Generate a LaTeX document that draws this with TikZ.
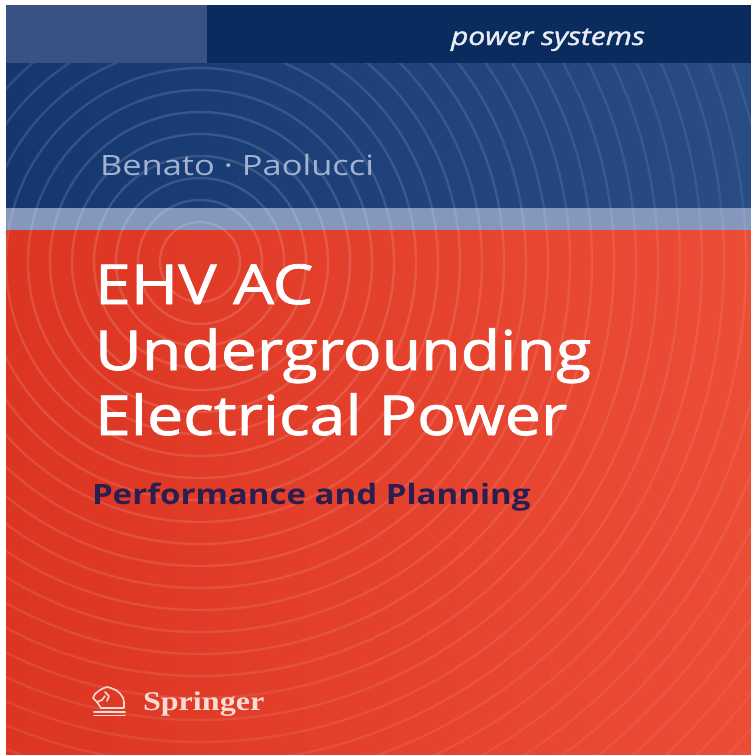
\documentclass[tikz,border=0pt]{standalone}
\usepackage{fontspec}
\setmainfont{Open Sans}
\newfontfamily\coverfont{Open Sans}
\newfontfamily\heavyfont[FakeBold=1.4]{Open Sans}
\newfontfamily\springerfont{Liberation Serif}
\definecolor{topbox}{HTML}{3A5184}
\definecolor{topband}{HTML}{0A2B5E}
\definecolor{midL}{HTML}{15376F}
\definecolor{midR}{HTML}{294C87}
\definecolor{bandc}{HTML}{8597BC}
\definecolor{redL}{HTML}{DC3522}
\definecolor{redR}{HTML}{EC4D37}
\definecolor{authorc}{HTML}{A2B3D1}
\definecolor{subc}{HTML}{2A1E50}
\definecolor{seriesc}{HTML}{E9EDF3}
\definecolor{springc}{HTML}{F7DCD3}
\newcommand{\wide}[2]{\scalebox{#1}[1]{#2}}
\tikzset{
  txt/.style={inner sep=0pt, outer sep=0pt, anchor=base west},
  titletxt/.style={txt, text=white, font=\heavyfont\fontsize{55}{60}\selectfont},
  ripple/.style={draw=white, line width=2.4pt},
  logoline/.style={draw=springc, line width=1.6pt, line cap=round, line join=round}
}
\begin{document}
\begin{tikzpicture}[x=1pt,y=-1pt]
\useasboundingbox (0,0) rectangle (751,755);
\fill[white] (0,0) rectangle (751,755);
% red lower area
\shade[left color=redL, right color=redR] (6,230) rectangle (751,755);
% blue middle area
\shade[left color=midL, right color=midR] (6,63) rectangle (751,208);
% light band
\fill[bandc] (6,208) rectangle (751,230);
% top band and light box
\fill[topband] (6,5) rectangle (751,63);
\fill[topbox] (6,5) rectangle (207,63);
% ripples, fading outward
\begin{scope}
  \clip (6,63) rectangle (751,755);
  \foreach \r in {40,62,...,900} {
    \pgfmathsetmacro{\op}{max(0.035,0.15-0.00013*\r)}
    \draw[ripple, opacity=\op] (200,262) circle[radius=\r];
  }
\end{scope}
% texts
\node[txt, text=seriesc, font=\heavyfont\itshape\fontsize{25}{30}\selectfont] (series) at (451,45) {\wide{1.2}{power systems}};
\node[txt, text=authorc, font=\coverfont\fontsize{28}{34}\selectfont] (authors) at (100,175) {\wide{1.23}{Benato · Paolucci}};
\node[titletxt] (t1) at (95,304) {\wide{1.17}{EHV AC}};
\node[titletxt] (t2) at (95,370) {\wide{1.17}{Undergrounding}};
\node[titletxt] (t3) at (95,435) {\wide{1.17}{Electrical Power}};
\node[txt, text=subc, font=\coverfont\bfseries\fontsize{28}{34}\selectfont] (sub) at (92,504) {\wide{1.18}{Performance and Planning}};
% Springer logo
\begin{scope}[shift={(92,687)}]
  \draw[logoline] (9,21) -- (5,15) -- (1,11) -- (3,7) -- (8,3) -- (12,1) -- (15,0) -- (19,1)
     .. controls (26,3) and (32,9) .. (32,15) -- (32,21) -- cycle;
  \draw[logoline] (5,15) -- (10,13) -- (13,9);
  \draw[logoline] (13,5) -- (17,9) -- (15,14);
  \draw[logoline] (2,25) -- (33,25);
  \draw[logoline] (2,28.5) -- (33,28.5);
\end{scope}
\node[txt, text=springc, font=\springerfont\bfseries\fontsize{27}{30}\selectfont] (springer) at (143,710) {\wide{1.19}{Springer}};
\end{tikzpicture}
\end{document}
